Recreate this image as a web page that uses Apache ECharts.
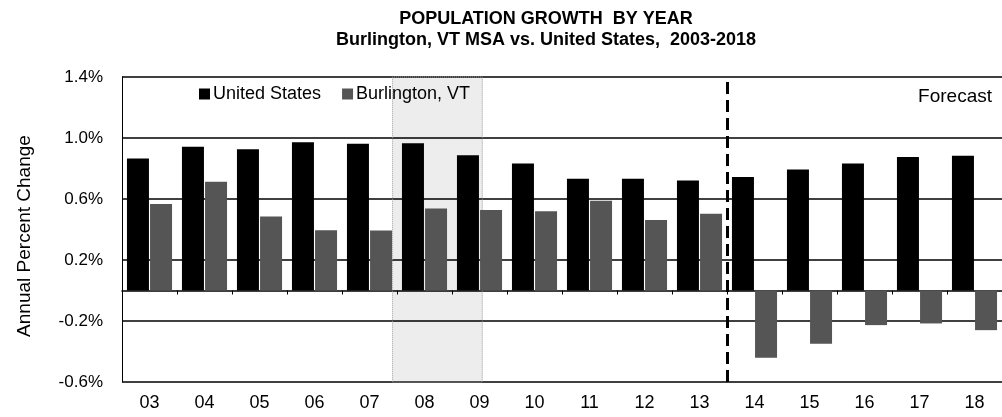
<!DOCTYPE html>
<html>
<head>
<meta charset="utf-8">
<script src="https://cdn.jsdelivr.net/npm/echarts@6/dist/echarts.min.js"></script>
<style>
  html, body { margin: 0; padding: 0; background: #fff; }
  #chart { width: 1002px; height: 417px; }
</style>
</head>
<body>
<div id="chart"></div>
<script>
// data
var years = ['03', '04', '05', '06', '07', '08', '09', '10', '11', '12', '13', '14', '15', '16', '17', '18'];
var usGrowth = [0.866, 0.943, 0.927, 0.972, 0.962, 0.965, 0.887, 0.832, 0.733, 0.733, 0.722, 0.744, 0.793, 0.832, 0.876, 0.883];
var burlGrowth = [0.567, 0.713, 0.485, 0.395, 0.393, 0.538, 0.528, 0.519, 0.589, 0.462, 0.503, -0.441, -0.349, -0.227, -0.216, -0.26];
// recession span and forecast start, in category units (0 = start of '03')
var recession = [4.92, 6.55];
var forecastStart = 11;

var font = 'Liberation Sans, Arial, sans-serif';
var chart = echarts.init(document.getElementById('chart'));

chart.setOption({
  animation: false,
  backgroundColor: '#fff',
  textStyle: { fontFamily: font, color: '#000' },
  grid: { left: 122, right: 0, top: 77, bottom: 35 },
  legend: {
    data: ['United States', 'Burlington, VT'],
    left: 199,
    top: 85,
    padding: 0,
    icon: 'rect',
    itemWidth: 11,
    itemHeight: 11,
    itemGap: 21,
    textStyle: { fontFamily: font, fontSize: 18, color: '#000', padding: [0, 0, 0, -2] }
  },
  graphic: [
    { type: 'text', x: 546, y: 19, style: { text: 'POPULATION GROWTH  BY YEAR', font: 'bold 18px ' + font, fill: '#000', align: 'center', verticalAlign: 'middle' } },
    { type: 'text', x: 546, y: 40, style: { text: 'Burlington, VT MSA vs. United States,  2003-2018', font: 'bold 18px ' + font, fill: '#000', align: 'center', verticalAlign: 'middle' } },
    { type: 'text', x: 25, y: 236, rotation: Math.PI / 2, style: { text: 'Annual Percent Change', font: '19px ' + font, fill: '#000', align: 'center', verticalAlign: 'middle' } },
    { type: 'text', x: 992, y: 97, style: { text: 'Forecast', font: '19px ' + font, fill: '#000', align: 'right', verticalAlign: 'middle' } }
  ],
  xAxis: [{
    type: 'category',
    data: years,
    position: 'bottom',
    axisLine: { show: false, onZero: false },
    axisTick: { show: false },
    axisLabel: { margin: 12, fontSize: 18, color: '#000', fontFamily: font }
  }, {
    type: 'value',
    min: 0,
    max: years.length,
    interval: 1,
    position: 'bottom',
    axisLine: { show: true, onZero: true, lineStyle: { color: '#000', width: 1.5 } },
    axisTick: { show: true, inside: false, length: 4, lineStyle: { color: '#000', width: 1 } },
    axisLabel: { show: false },
    splitLine: { show: false }
  }],
  yAxis: {
    type: 'value',
    min: -0.6,
    max: 1.4,
    interval: 0.2,
    axisLine: { show: true, onZero: false, lineStyle: { color: '#000', width: 1 } },
    axisTick: { show: false },
    axisLabel: {
      margin: 19,
      fontSize: 17,
      color: '#000',
      fontFamily: font,
      formatter: function (v) {
        var k = Math.round(v * 10);
        return (k + 6) % 4 === 0 ? (k / 10).toFixed(1) + '%' : '';
      }
    },
    splitLine: { show: true, lineStyle: { color: ['#000', 'rgba(0,0,0,0)'], width: 1.5 } }
  },
  series: [{
    name: 'United States',
    type: 'bar',
    xAxisIndex: 0,
    data: usGrowth,
    barWidth: 22,
    barGap: '5%',
    itemStyle: { color: '#000' },
    z: 3
  }, {
    name: 'Burlington, VT',
    type: 'bar',
    xAxisIndex: 0,
    data: burlGrowth,
    barWidth: 22,
    itemStyle: { color: '#555' },
    z: 3
  }, {
    name: 'marks',
    type: 'scatter',
    xAxisIndex: 1,
    data: [],
    z: 1,
    markArea: {
      silent: true,
      itemStyle: { color: 'rgba(0,0,0,0.07)', borderColor: '#999', borderWidth: 1, borderType: 'dotted' },
      data: [[{ xAxis: recession[0] }, { xAxis: recession[1] }]]
    },
    markLine: {
      silent: true,
      symbol: 'none',
      z: 5,
      label: { show: false },
      lineStyle: { color: '#000', width: 3, type: [12, 6] },
      data: [{ xAxis: forecastStart }]
    }
  }]
});
</script>
</body>
</html>
